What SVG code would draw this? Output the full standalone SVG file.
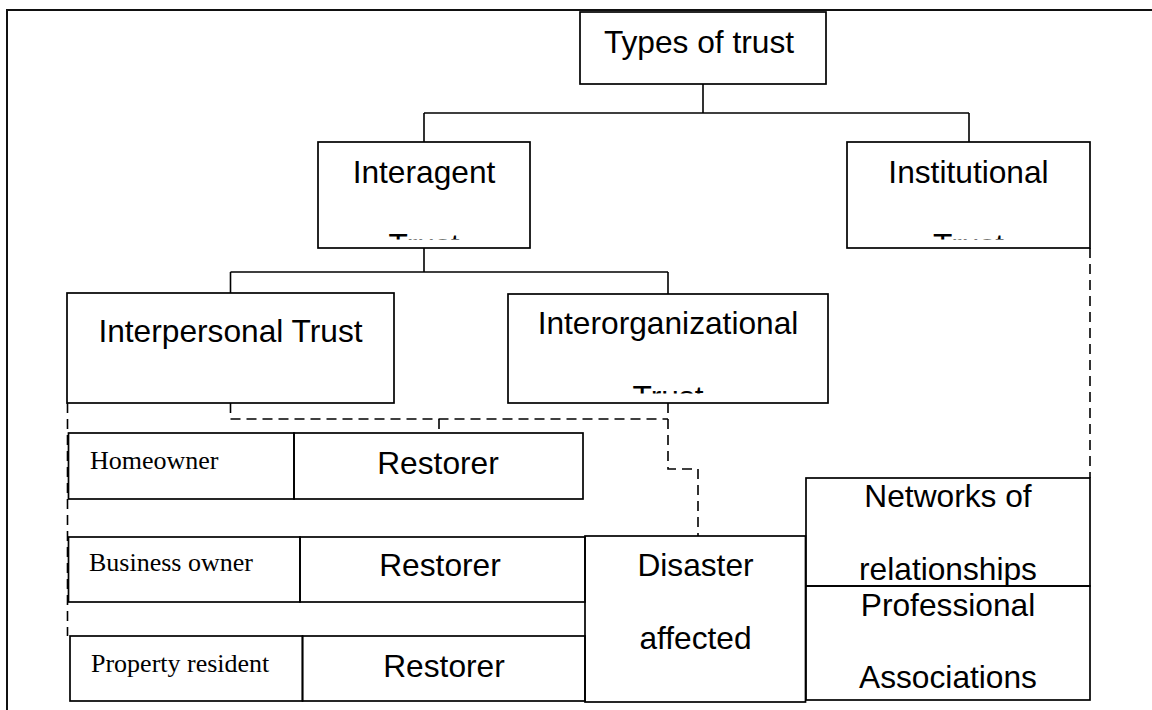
<svg xmlns="http://www.w3.org/2000/svg" width="1152" height="710" viewBox="0 0 1152 710">
<style>
.box{fill:none;stroke:#000;stroke-width:1.7}
.ln{fill:none;stroke:#000;stroke-width:1.6}
.dash{fill:none;stroke:#000;stroke-width:1.6;stroke-dasharray:10 6}
.a{font-family:"Liberation Sans",Arial,sans-serif;font-size:31.7px;fill:#000}
.t{font-family:"Liberation Serif","Times New Roman",serif;font-size:26px;fill:#000}
.m{text-anchor:middle}
</style>
<defs>
<clipPath id="c1"><rect x="318" y="142" width="212" height="97.5"/></clipPath>
<clipPath id="c2"><rect x="847" y="142" width="243" height="97.5"/></clipPath>
<clipPath id="c3"><rect x="508" y="294" width="320" height="99.5"/></clipPath>
</defs>
<rect width="1152" height="710" fill="#fff"/>
<path id="frame" d="M7,710 V10 H1152" stroke="#111" stroke-width="2" fill="none"/>
<g id="connectors">
<path class="ln" d="M703,84 V113 M424,113 H969 M424,113 V142 M969,113 V142"/>
<path class="ln" d="M424,248 V272 M230.5,272 H668 M230.5,272 V293 M668,272 V294"/>
<path class="dash" d="M230.5,403 V419 H668"/>
<path class="dash" d="M439,419 V433"/>
<path class="dash" d="M668,403 V469 H698 V536"/>
<path class="dash" d="M67.5,403 V636"/>
<path class="dash" d="M1090,248 V478"/>
</g>
<g id="types">
<rect class="box" x="580" y="12" width="246" height="72"/>
<text class="a m" x="699" y="53">Types of trust</text>
</g>
<g id="interagent">
<rect class="box" x="318" y="142" width="212" height="106"/>
<text class="a m" x="424" y="183">Interagent</text>
<text class="a m" x="424" y="256" clip-path="url(#c1)">Trust</text>
</g>
<g id="institutional">
<rect class="box" x="847" y="142" width="243" height="106"/>
<text class="a m" x="968.5" y="183">Institutional</text>
<text class="a m" x="968.5" y="256" clip-path="url(#c2)">Trust</text>
</g>
<g id="interpersonal">
<rect class="box" x="67" y="293" width="327" height="110"/>
<text class="a m" x="230.5" y="342">Interpersonal Trust</text>
</g>
<g id="interorganizational">
<rect class="box" x="508" y="294" width="320" height="109"/>
<text class="a m" x="668" y="334">Interorganizational</text>
<text class="a m" x="668" y="408" clip-path="url(#c3)">Trust</text>
</g>
<g id="homeowner">
<rect class="box" x="68.5" y="433" width="225.5" height="66"/>
<text class="t" x="90" y="469">Homeowner</text>
</g>
<g id="restorer1">
<rect class="box" x="294" y="433" width="289" height="66"/>
<text class="a m" x="438" y="474">Restorer</text>
</g>
<g id="business-owner">
<rect class="box" x="68.5" y="537" width="231.5" height="65"/>
<text class="t" x="89" y="571">Business owner</text>
</g>
<g id="restorer2">
<rect class="box" x="300" y="537" width="285" height="65"/>
<text class="a m" x="440" y="576">Restorer</text>
</g>
<g id="property-resident">
<rect class="box" x="70" y="636" width="232.5" height="65"/>
<text class="t" x="91" y="672">Property resident</text>
</g>
<g id="restorer3">
<rect class="box" x="302.5" y="636" width="282.5" height="65"/>
<text class="a m" x="444" y="677">Restorer</text>
</g>
<g id="disaster-affected">
<rect class="box" x="585" y="536" width="220.5" height="166"/>
<text class="a m" x="695.5" y="576">Disaster</text>
<text class="a m" x="695.5" y="649">affected</text>
</g>
<g id="networks">
<rect class="box" x="806" y="478" width="284" height="108"/>
<text class="a m" x="948" y="507">Networks of</text>
<text class="a m" x="948" y="580">relationships</text>
</g>
<g id="professional">
<rect class="box" x="806" y="586" width="284" height="114"/>
<text class="a m" x="948" y="615.5">Professional</text>
<text class="a m" x="948" y="688">Associations</text>
</g>
</svg>
